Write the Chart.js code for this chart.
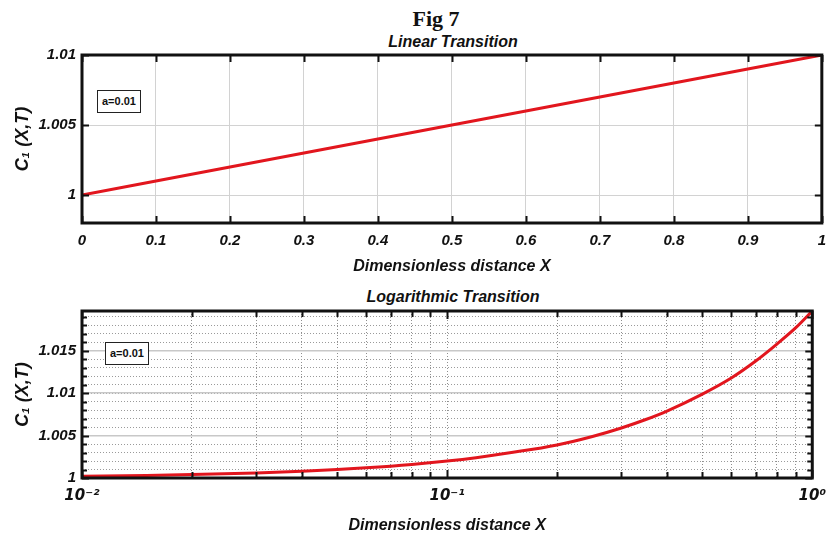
<!DOCTYPE html>
<html>
<head>
<meta charset="utf-8">
<script src="https://cdn.jsdelivr.net/npm/chart.js@4.4.1/dist/chart.umd.min.js"></script>
<style>
  body { margin: 0; background: #fff; width: 835px; height: 542px; position: relative; overflow: hidden; }
  canvas { position: absolute; left: 0; }
  .lbl { position: absolute; transform: translate(-50%, -50%); white-space: nowrap; color: #111; }
  .fig { font: bold 22px 'Liberation Serif', 'Times New Roman', serif; }
  .titulo { font: italic bold 16px 'Liberation Sans', Arial, sans-serif; }
  .caixa { position: absolute; border: 1.5px solid #222; background: #fff; color: #111;
           font: bold 11px 'Liberation Sans', Arial, sans-serif; padding: 4px 4px; line-height: 13px; }
</style>
</head>
<body>
<div class="lbl fig" style="left:436px; top:19px;">Fig 7</div>
<div class="lbl titulo" style="left:453px; top:42px;">Linear Transition</div>
<canvas id="graficoLinear" width="835" height="280" style="top:0;"></canvas>
<div class="caixa" style="left:97px; top:90px;">a=0.01</div>

<div class="lbl titulo" style="left:453px; top:297px;">Logarithmic Transition</div>
<canvas id="graficoLog" width="835" height="262" style="top:280px;"></canvas>
<div class="caixa" style="left:105px; top:342px;">a=0.01</div>

<script>
// dados
const linX = [0, 0.1, 0.2, 0.3, 0.4, 0.5, 0.6, 0.7, 0.8, 0.9, 1];
const linC = [1.000, 1.001, 1.002, 1.003, 1.004, 1.005, 1.006, 1.007, 1.008, 1.009, 1.010];

const logX = [0.01, 0.015, 0.02, 0.03, 0.04, 0.05, 0.06, 0.08, 0.1, 0.12, 0.15, 0.2,
              0.25, 0.3, 0.35, 0.4, 0.5, 0.6, 0.7, 0.8, 0.9, 1];
const logC = [1.0002, 1.0003, 1.0004, 1.0006, 1.0008, 1.0010, 1.0012, 1.0016, 1.0020, 1.0024, 1.0030, 1.0039,
              1.0049, 1.0059, 1.0069, 1.0079, 1.0099, 1.0118, 1.0138, 1.0158, 1.0177, 1.0197];

// ticks
const linXTicks = [0, 0.1, 0.2, 0.3, 0.4, 0.5, 0.6, 0.7, 0.8, 0.9, 1];
const linYTicks = [1, 1.005, 1.01];
const logYTicks = [1, 1.005, 1.01, 1.015];
const logYGrid = [1, 1.001, 1.002, 1.003, 1.004, 1.005, 1.006, 1.007, 1.008, 1.009,
                  1.01, 1.011, 1.012, 1.013, 1.014, 1.015, 1.016, 1.017, 1.018, 1.019];
const logXMajor = [0.01, 0.1, 1];
const logXLabels = ['10\u207B\u00B2', '10\u207B\u00B9', '10\u2070'];
const logXGrid = [0.01, 0.02, 0.03, 0.04, 0.05, 0.06, 0.07, 0.08, 0.09,
                  0.1, 0.2, 0.3, 0.4, 0.5, 0.6, 0.7, 0.8, 0.9, 1];

const FONTE = "'Liberation Sans', Arial, sans-serif";
const VERMELHO = '#e2161e';

function acha(lista, v) {
  return lista.findIndex(t => Math.abs(t - v) < 1e-7);
}

// moldura preta e marcas internas
const molduraPlugin = {
  id: 'moldura',
  afterDraw(chart, args, opts) {
    const { ctx, chartArea: a, scales } = chart;
    ctx.save();
    ctx.strokeStyle = '#111';
    ctx.lineWidth = 2;
    scales.x.ticks.forEach(t => {
      const px = Math.round(scales.x.getPixelForValue(t.value)) + 0.5;
      const len = opts.xLen(t.value);
      ctx.beginPath();
      ctx.moveTo(px, a.bottom); ctx.lineTo(px, a.bottom - len);
      ctx.moveTo(px, a.top); ctx.lineTo(px, a.top + len);
      ctx.stroke();
    });
    scales.y.ticks.forEach(t => {
      const py = Math.round(scales.y.getPixelForValue(t.value)) + 0.5;
      const len = opts.yLen(t.value);
      ctx.beginPath();
      ctx.moveTo(a.left, py); ctx.lineTo(a.left + len, py);
      ctx.moveTo(a.right, py); ctx.lineTo(a.right - len, py);
      ctx.stroke();
    });
    ctx.lineWidth = 3;
    ctx.strokeRect(a.left, a.top, a.right - a.left, a.bottom - a.top);
    ctx.restore();
  }
};

const tituloY = {
  display: true,
  text: 'C\u2081 (X,T)',
  color: '#111',
  font: { family: FONTE, size: 18, weight: 'bold', style: 'italic' },
  padding: { top: 12, bottom: 0 }
};

const tituloX = {
  display: true,
  text: 'Dimensionless distance X',
  color: '#111',
  font: { family: FONTE, size: 16, weight: 'bold', style: 'italic' }
};

const fonteTick = { family: FONTE, size: 15, weight: 'bold', style: 'italic' };

// Gráfico linear
new Chart(document.getElementById('graficoLinear'), {
  type: 'line',
  data: {
    datasets: [{
      data: linX.map((x, i) => ({ x, y: linC[i] })),
      borderColor: VERMELHO,
      borderWidth: 3,
      pointRadius: 0,
      fill: false
    }]
  },
  options: {
    responsive: false,
    animation: false,
    layout: { padding: { top: 55, right: 12, left: 0, bottom: 0 } },
    plugins: {
      legend: { display: false },
      tooltip: { enabled: false },
      moldura: { xLen: () => 7, yLen: () => 7 }
    },
    scales: {
      x: {
        type: 'linear',
        min: 0, max: 1,
        afterBuildTicks: s => { s.ticks = linXTicks.map(v => ({ value: v })); },
        afterFit: s => { s.height = 57; },
        grid: { color: '#d2d2d2', lineWidth: 1, drawTicks: false },
        border: { display: false },
        ticks: {
          padding: 9, color: '#111', font: fonteTick, maxRotation: 0, autoSkip: false,
          callback: v => String(Number(v.toFixed(1)))
        },
        title: { ...tituloX, padding: { top: 0, bottom: 4 } }
      },
      y: {
        type: 'linear',
        min: 0.998, max: 1.01,
        afterBuildTicks: s => { s.ticks = linYTicks.map(v => ({ value: v })); },
        afterFit: s => { s.width = 82; },
        grid: { color: '#d2d2d2', lineWidth: 1, drawTicks: false },
        border: { display: false },
        ticks: {
          padding: 6, color: '#111', font: fonteTick,
          callback: v => { const i = acha(linYTicks, v); return i >= 0 ? String(linYTicks[i]) : ''; }
        },
        title: tituloY
      }
    }
  },
  plugins: [molduraPlugin]
});

// Gráfico logarítmico
new Chart(document.getElementById('graficoLog'), {
  type: 'line',
  data: {
    datasets: [{
      data: logX.map((x, i) => ({ x, y: logC[i] })),
      borderColor: VERMELHO,
      borderWidth: 3,
      pointRadius: 0,
      cubicInterpolationMode: 'monotone',
      fill: false
    }]
  },
  options: {
    responsive: false,
    animation: false,
    layout: { padding: { top: 31, right: 12, left: 0, bottom: 0 } },
    plugins: {
      legend: { display: false },
      tooltip: { enabled: false },
      moldura: {
        xLen: v => acha(logXMajor, v) >= 0 ? 8 : 6,
        yLen: v => acha(logYTicks, v) >= 0 ? 7 : 5
      }
    },
    scales: {
      x: {
        type: 'logarithmic',
        min: 0.01, max: 1,
        afterBuildTicks: s => { s.ticks = logXGrid.map(v => ({ value: v })); },
        afterFit: s => { s.height = 64; },
        grid: { color: '#8f8f8f', lineWidth: 1, drawTicks: false },
        border: { display: false, dash: [1, 2] },
        ticks: {
          padding: 9, color: '#111', maxRotation: 0, autoSkip: false,
          font: { family: "'DejaVu Sans', sans-serif", size: 15, weight: 'bold', style: 'italic' },
          callback: v => { const i = acha(logXMajor, v); return i >= 0 ? logXLabels[i] : ''; }
        },
        title: { ...tituloX, padding: { top: 0, bottom: 7 } }
      },
      y: {
        type: 'linear',
        min: 1, max: 1.0197,
        afterBuildTicks: s => { s.ticks = logYGrid.map(v => ({ value: v })); },
        ticks: {
          padding: 6, color: '#111', font: fonteTick, autoSkip: false,
          callback: v => { const i = acha(logYTicks, v); return i >= 0 ? String(logYTicks[i]) : ''; }
        },
        afterFit: s => { s.width = 82; },
        grid: { color: '#9a9a9a', lineWidth: 1, drawTicks: false },
        border: { display: false, dash: [1, 2] },
        title: tituloY
      },
      y2: {
        type: 'linear',
        position: 'left',
        min: 1, max: 1.0197,
        afterBuildTicks: s => { s.ticks = logYTicks.map(v => ({ value: v })); },
        afterFit: s => { s.width = 0; },
        ticks: { display: false },
        grid: { color: '#c8c8c8', lineWidth: 1.5, drawTicks: false },
        border: { display: false }
      }
    }
  },
  plugins: [molduraPlugin]
});
</script>
</body>
</html>
